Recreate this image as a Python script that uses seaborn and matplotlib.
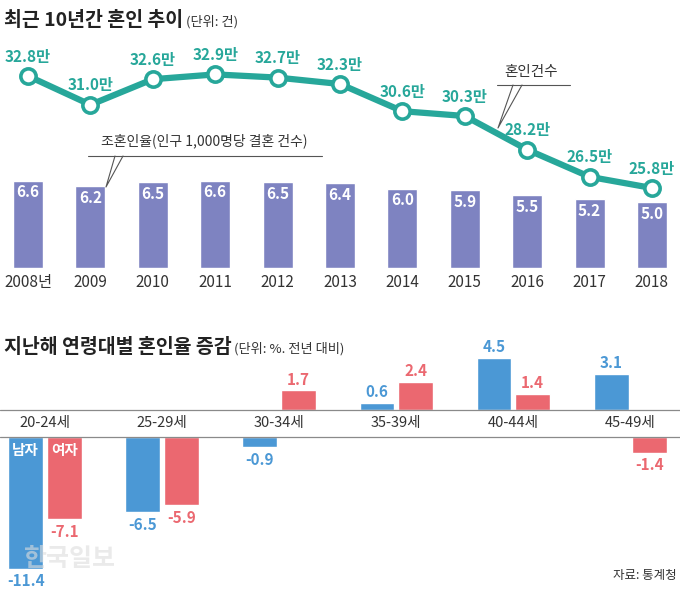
import numpy as np
import pandas as pd
import matplotlib
matplotlib.use("Agg")
import matplotlib.pyplot as plt
from matplotlib.lines import Line2D
import seaborn as sns

# data (top: marriages in 10,000s and crude marriage rate per 1,000 people)
years = ['2008년', '2009', '2010', '2011', '2012', '2013',
         '2014', '2015', '2016', '2017', '2018']
marriages = [32.8, 31.0, 32.6, 32.9, 32.7, 32.3, 30.6, 30.3, 28.2, 26.5, 25.8]
crude_rate = [6.6, 6.2, 6.5, 6.6, 6.5, 6.4, 6.0, 5.9, 5.5, 5.2, 5.0]

# data (bottom: change in marriage rate by age group, % vs previous year)
age_groups = ['20-24세', '25-29세', '30-34세', '35-39세', '40-44세', '45-49세']
male_change = [-11.4, -6.5, -0.9, 0.6, 4.5, 3.1]
female_change = [-7.1, -5.9, 1.7, 2.4, 1.4, -1.4]

TEAL = '#27a79a'
PURPLE = '#7e83c1'
BLUE = '#4b98d5'
RED = '#eb6870'
TXT = '#333333'
RULE = '#8a8a8a'

W, H = 680, 599


def fx(x):
    return x / W


def fy(y):
    return 1 - y / H


sns.set_theme(style='white')
plt.rcParams['font.family'] = ['Noto Sans CJK KR', 'DejaVu Sans']

fig = plt.figure(figsize=(6.8, 5.99), dpi=100)
fig.patch.set_facecolor('white')

# ---- top chart: bars (crude rate) + line (marriages)
ax = fig.add_axes([0, fy(268), 1, 228 / H])
sns.barplot(x=years, y=crude_rate, color=PURPLE, width=0.48, saturation=1, ax=ax)
ax.set_ylim(0, 228 / 13.25)
for p, v in zip(ax.patches, crude_rate):
    ax.annotate(f"{v:.1f}", (p.get_x() + p.get_width() / 2, p.get_height()),
                xytext=(0, -8.6), textcoords='offset points', ha='center', va='center',
                color='white', fontsize=11, fontweight='bold')
ax.set_xlabel('')
ax.set_ylabel('')
ax.set_yticks([])
ax.tick_params(axis='x', length=0, pad=4, labelsize=11, labelcolor=TXT)
sns.despine(ax=ax, left=True, bottom=True)

ax2 = ax.twinx()
sns.lineplot(x=np.arange(len(years)), y=marriages, ax=ax2, color=TEAL, lw=4.5,
             marker='o', markersize=11, markerfacecolor='white',
             markeredgecolor=TEAL, markeredgewidth=2.6)
ax2.set_ylim(20.8, 35.05)
for i, v in enumerate(marriages):
    ax2.annotate(f"{v:.1f}만", (i, v), xytext=(0, 14), textcoords='offset points',
                 ha='center', va='center', fontsize=11, fontweight='bold', color=TEAL)
ax2.set_yticks([])
ax2.set_ylabel('')
sns.despine(ax=ax2, left=True, bottom=True, right=True)
ax.set_xlim(-0.45, 10.45)

# ---- bottom chart: split baseline, positive above / negative below
df = pd.DataFrame({
    'age': age_groups * 2,
    'sex': ['남자'] * len(age_groups) + ['여자'] * len(age_groups),
    'change': male_change + female_change,
})
pal = {'남자': BLUE, '여자': RED}

ax_up = fig.add_axes([0, fy(410), 1, 60 / H])
ax_dn = fig.add_axes([0, fy(580), 1, 143 / H])
for a in (ax_up, ax_dn):
    sns.barplot(data=df, x='age', y='change', hue='sex', palette=pal, width=0.66,
                gap=0.1, saturation=1, errorbar=None, legend=False, ax=a)
    a.set_xlabel('')
    a.set_ylabel('')
    a.set_yticks([])
    a.set_xlim(-0.384, 5.423)
    a.axhline(0, color=RULE, lw=0.9, clip_on=False)
    sns.despine(ax=a, left=True, bottom=True)
ax_up.set_ylim(0, 60 / 11.6)
ax_dn.set_ylim(-143 / 11.6, 0)
ax_up.tick_params(axis='x', length=0, pad=4, labelsize=10.5, labelcolor=TXT)
ax_dn.tick_params(axis='x', length=0, labelbottom=False)

for a, sign in ((ax_up, 1), (ax_dn, -1)):
    for cont, col, vals in zip(a.containers, [BLUE, RED], [male_change, female_change]):
        labels = [f"{v}" if v * sign > 0 else '' for v in vals]
        a.bar_label(cont, labels=labels, padding=2 if sign > 0 else 3, color=col,
                    fontsize=11, fontweight='bold')

for cont, name in zip(ax_dn.containers, ['남자', '여자']):
    p = cont[0]
    ax_dn.annotate(name, (p.get_x() + p.get_width() / 2, 0), xytext=(0, -9.5),
                   textcoords='offset points', ha='center', va='center',
                   color='white', fontsize=10.5, fontweight='bold')

# ---- titles with small unit notes right after them
t1 = fig.text(fx(4), fy(26), '최근 10년간 혼인 추이', ha='left', va='baseline',
              fontsize=14, fontweight='bold', color='#222222')
t2 = fig.text(fx(4), fy(353), '지난해 연령대별 혼인율 증감', ha='left', va='baseline',
              fontsize=14, fontweight='bold', color='#222222')
for t, sub in ((t1, '(단위: 건)'), (t2, '(단위: %. 전년 대비)')):
    ax_dn.annotate(sub, xy=(1, 0), xycoords=t, xytext=(2, 1),
                   textcoords='offset points', ha='left', va='bottom',
                   fontsize=9.5, color=TXT, annotation_clip=False)

# ---- callouts
fig.text(fx(204), fy(141), '조혼인율(인구 1,000명당 결혼 건수)', ha='center', va='center',
         fontsize=10, color=TXT)
fig.add_artist(Line2D([fx(88), fx(322)], [fy(156), fy(156)], color='#555555', lw=0.8))
fig.add_artist(Line2D([fx(115), fx(106), fx(123)], [fy(156), fy(187), fy(156)],
                      color='#555555', lw=0.8))
fig.text(fx(531), fy(72), '혼인건수', ha='center', va='center', fontsize=10.5, color=TXT)
fig.add_artist(Line2D([fx(497), fx(570)], [fy(85), fy(85)], color='#555555', lw=0.8))
fig.add_artist(Line2D([fx(513), fx(498), fx(522)], [fy(85), fy(128), fy(85)],
                      color='#555555', lw=0.8))

# ---- watermark and source
fig.text(fx(70), fy(559), '한국일보', ha='center', va='center', fontsize=18,
         fontweight='bold', color='#dddddd', alpha=0.6)
fig.text(fx(677), fy(575), '자료: 통계청', ha='right', va='center', fontsize=9, color=TXT)

fig.savefig('out.png', dpi=100, facecolor='white')
